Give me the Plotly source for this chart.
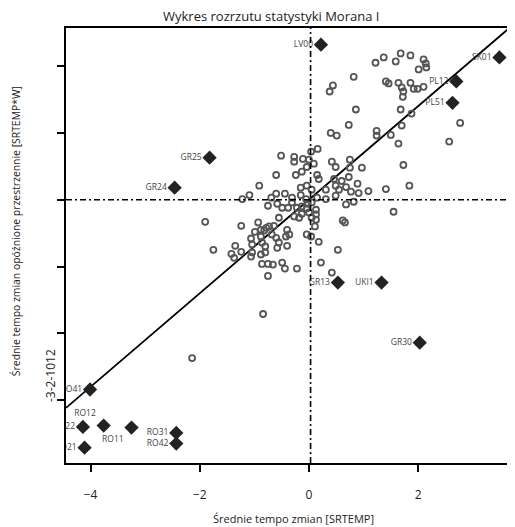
import plotly.graph_objects as go

# ---- data ----
gx = [1.22, 1.37, 1.59, 1.68, 1.86, 2.10, 2.14, 2.01, 2.15, 0.82, 0.38, 0.44, 1.41, 1.46, 1.64, 1.70,
      1.73, 1.86, 1.92, 1.99, 2.10, 1.72, 0.86, 1.68, 1.88, 0.73, 0.40, 0.51, 1.24, 1.24, 1.50, 1.70,
      2.77, 2.57, 1.64, 1.73, 1.84, 1.41, 1.09, 1.55,
      0.04, 0.16, -0.51, -0.27, -0.27, -0.11, 0.00, 0.09, -0.04, 0.42, 0.49, 0.75, 0.97, 0.75, 0.73,
      -0.60, -0.24, -0.13, 0.15, 0.18, 0.46, 0.60, 0.89, -0.91, -0.15, -0.04, 0.05, 0.31, 0.49, 0.55,
      0.68, 0.77, 0.91, -1.09, -1.22, -0.69, -0.60, -0.44, -0.31, -0.15, -0.05, 0.15, 0.31, 0.49,
      0.68, 0.82, -0.75, -0.58, -0.49, -0.38, -0.31, -0.22, -0.13, -0.02, 0.05, 0.13, -0.04, -0.55,
      -0.27, -0.18, -0.13, 0.00, 0.13, 0.05, 0.13, 0.62, 0.66, -1.90, -1.24, -0.93, -0.88, -0.82,
      -0.78, -0.73, -0.64, -0.99, -0.40, -0.36, -0.04, 0.11, 0.04, -1.06, -0.88, -0.68, -0.60, -0.42,
      -0.55, -1.75, -1.35, -1.04, -0.86, -0.80, -0.58, -0.40, 0.18, -1.42, -1.24, -1.04, -0.80, 0.53,
      -1.37, -1.06, -0.88, -0.86, -0.75, -0.66, -0.49, -0.44, -0.22, 0.22, -0.75, 0.42, -0.84, -2.14]
gy = [2.05, 2.13, 2.07, 2.19, 2.16, 2.10, 2.04, 1.95, 1.98, 1.84, 1.62, 1.71, 1.77, 1.74, 1.75, 1.68,
      1.62, 1.75, 1.66, 1.66, 1.69, 1.54, 1.35, 1.35, 1.29, 1.12, 1.00, 0.96, 1.03, 0.96, 0.97, 1.11,
      1.15, 0.87, 0.84, 0.52, 0.21, 0.16, 0.13, -0.18,
      0.72, 0.76, 0.66, 0.64, 0.57, 0.61, 0.60, 0.54, 0.49, 0.57, 0.49, 0.60, 0.48, 0.48, 0.34,
      0.37, 0.37, 0.42, 0.37, 0.31, 0.31, 0.28, 0.24, 0.21, 0.18, 0.21, 0.15, 0.15, 0.21, 0.15,
      0.19, 0.12, 0.10, 0.07, 0.01, 0.03, 0.09, 0.09, 0.03, 0.07, 0.01, 0.03, 0.01, 0.06,
      -0.07, -0.03, -0.09, -0.06, -0.12, -0.12, -0.04, -0.12, -0.10, -0.06, -0.04, -0.15, -0.13, -0.27,
      -0.25, -0.27, -0.21, -0.19, -0.22, -0.27, -0.30, -0.31, -0.34, -0.33, -0.39, -0.34, -0.45, -0.46,
      -0.42, -0.40, -0.39, -0.48, -0.45, -0.52, -0.52, -0.40, -0.55, -0.58, -0.55, -0.52, -0.57, -0.55,
      -0.64, -0.75, -0.69, -0.67, -0.64, -0.70, -0.72, -0.69, -0.63, -0.81, -0.78, -0.79, -0.79, -0.75,
      -0.87, -0.85, -0.82, -0.96, -0.96, -0.97, -0.94, -1.03, -1.03, -0.94, -1.14, -1.09, -1.71, -2.37]

names = ["LV00", "SK01", "PL12", "PL51", "GR25", "GR24", "GR13", "UKI1", "GR30",
         "RO41", "RO22", "RO12", "RO11", "RO21", "RO31", "RO42"]
lx = [0.22, 3.49, 2.70, 2.63, -1.82, -2.46, 0.53, 1.33, 2.03,
      -4.01, -4.14, -3.76, -3.25, -4.11, -2.43, -2.43]
ly = [2.32, 2.13, 1.77, 1.45, 0.63, 0.18, -1.24, -1.24, -2.14,
      -2.84, -3.40, -3.38, -3.41, -3.71, -3.49, -3.65]
label_pos = ["middle left"] * 11 + ["top left", "bottom left", "middle left", "middle left", "middle left"]

x_ticks = [-4, -2, 0, 2]
y_ticks = [-3, -2, -1, 0, 1, 2]
MORAN_I = 0.70
MEAN_X = 0.03
MEAN_Y = 0.0
x_range = [-4.45, 3.72]
y_range = [-3.94, 2.57]

fig = go.Figure()

# regression line (slope = Moran's I)
fig.add_trace(go.Scatter(
    x=[x_range[0], x_range[1]], y=[MORAN_I * x_range[0], MORAN_I * x_range[1]],
    mode="lines", line=dict(color="black", width=1.8), hoverinfo="skip", cliponaxis=True))

fig.add_trace(go.Scatter(
    x=gx, y=gy, mode="markers",
    marker=dict(symbol="circle-open", size=6, color="#555555", line=dict(width=1.8, color="#555555"))))

fig.add_trace(go.Scatter(
    x=lx, y=ly, mode="markers+text", text=names, textposition=label_pos,
    textfont=dict(family="Open Sans", size=8.5, color="#444444"),
    marker=dict(symbol="diamond", size=11, color="#222222"),
    cliponaxis=True))

# mean lines
fig.add_shape(type="line", xref="x", yref="paper", x0=MEAN_X, x1=MEAN_X, y0=0, y1=1,
              line=dict(color="black", width=1.6, dash="6px,3px,2px,3px"))
fig.add_shape(type="line", xref="paper", yref="y", x0=0, x1=1, y0=MEAN_Y, y1=MEAN_Y,
              line=dict(color="black", width=1.6, dash="6px,3px,2px,3px"))

fig.update_layout(
    width=507, height=519,
    margin=dict(l=58, r=1, t=20, b=64),
    plot_bgcolor="white", paper_bgcolor="white",
    showlegend=False,
    font=dict(family="Open Sans", color="#222222"),
    annotations=[
        dict(text="Wykres rozrzutu statystyki Morana I", xref="paper", yref="paper",
             x=0.46, y=1.0, yshift=1, xanchor="center", yanchor="bottom", showarrow=False,
             font=dict(size=13, color="#222222")),
        dict(text="Średnie tempo zmian [SRTEMP]", xref="paper", yref="paper",
             x=0.51, y=0, yshift=-46, xanchor="center", yanchor="top", showarrow=False,
             font=dict(size=11, color="#222222")),
        dict(text="Średnie tempo zmian opóźnione przestrzennie [SRTEMP*W]", xref="paper", yref="paper",
             x=0, xshift=-50, y=0.533, xanchor="center", yanchor="middle", textangle=-90,
             showarrow=False, font=dict(size=10.4, color="#222222")),
        dict(text="-3-2-1012", xref="paper", yref="paper",
             x=0, xshift=-16, y=0.2, xanchor="center", yanchor="middle", textangle=-90,
             showarrow=False, font=dict(size=12, color="#222222")),
    ],
)
fig.update_xaxes(range=x_range, tickvals=x_ticks, ticks="outside", ticklen=7, tickwidth=2,
                 tickcolor="black", showline=True, mirror=True, linecolor="black", linewidth=2,
                 showgrid=False, zeroline=False, tickfont=dict(size=12, color="#222222"),
                 ticklabelstandoff=13)
fig.update_yaxes(range=y_range, tickvals=y_ticks, ticks="outside", ticklen=7, tickwidth=2,
                 tickcolor="black", showline=True, mirror=True, linecolor="black", linewidth=2,
                 showgrid=False, zeroline=False, showticklabels=False)

fig.write_html("out.html")
